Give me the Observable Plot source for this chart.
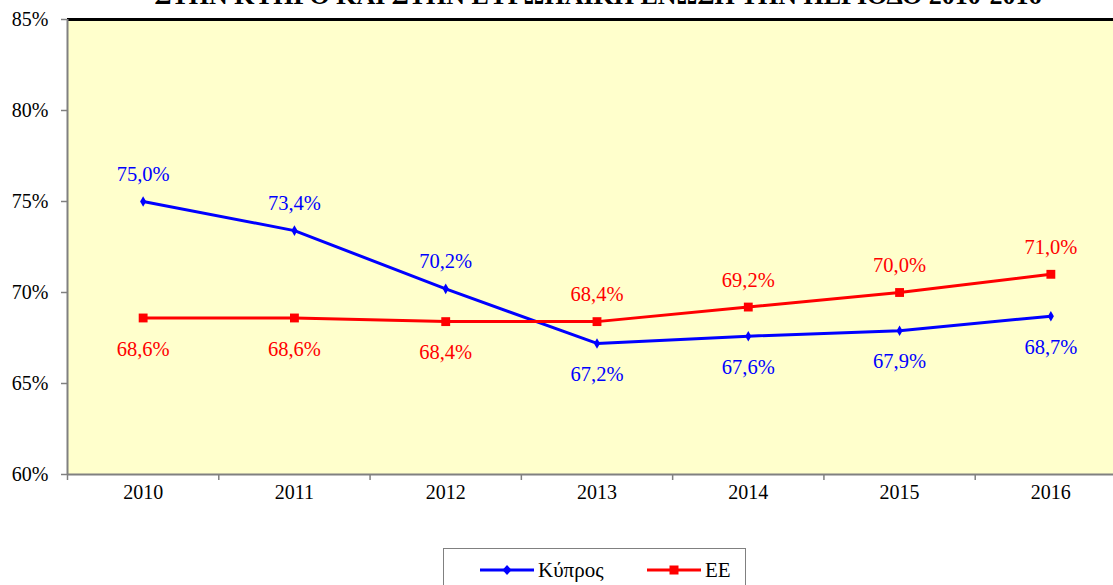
<!DOCTYPE html>
<html><head><meta charset="utf-8">
<script src="https://cdn.jsdelivr.net/npm/d3@7"></script>
<script src="https://cdn.jsdelivr.net/npm/@observablehq/plot@0.6"></script>
<style>
html,body{margin:0;padding:0;background:#fff;overflow:hidden;width:1113px;height:585px;}
body{position:relative;font-family:"Liberation Serif","Times New Roman",serif;}
#title{position:absolute;left:0;width:1196px;top:-19px;text-align:center;font-weight:bold;font-size:26px;white-space:nowrap;color:#000;font-family:"Liberation Serif","Times New Roman",serif;}
#chart{position:absolute;left:0;top:0;}
#chart svg{max-width:none !important;}
#chart svg text{font-family:"Liberation Serif","Times New Roman",serif !important;}
#legend{position:absolute;left:443px;top:548px;width:303px;height:60px;border:1.5px solid #808080;background:#fff;box-sizing:border-box;}
.item{position:absolute;top:9px;font-size:21px;line-height:24px;display:flex;align-items:center;font-family:"Liberation Serif","Times New Roman",serif;}
.item svg{margin-right:4px;}
</style></head>
<body>
<div id="title">ΣΤΗΝ ΚΥΠΡΟ ΚΑΙ ΣΤΗΝ ΕΥΡΩΠΑΪΚΗ ΕΝΩΣΗ ΤΗΝ ΠΕΡΙΟΔΟ 2010-2016</div>
<div id="chart"></div>
<div id="legend"></div>
<script>
const years = ["2010","2011","2012","2013","2014","2015","2016"];
const cyprus = [75.0, 73.4, 70.2, 67.2, 67.6, 67.9, 68.7];
const eu = [68.6, 68.6, 68.4, 68.4, 69.2, 70.0, 71.0];
const yTicks = [60, 65, 70, 75, 80, 85];
const seriesNames = ["Κύπρος", "ΕΕ"];
const colors = ["#0000FF", "#FF0000"];

const fmt = v => v.toFixed(1).replace(".", ",") + "%";
const rows = [];
years.forEach((y, i) => {
  rows.push({i, year: y, s: seriesNames[0], v: cyprus[i], above: cyprus[i] >= eu[i]});
  rows.push({i, year: y, s: seriesNames[1], v: eu[i], above: eu[i] > cyprus[i]});
});
const cyRows = rows.filter(d => d.s === seriesNames[0]);
const euRows = rows.filter(d => d.s === seriesNames[1]);
const bounds = d3.range(years.length + 1).map(k => k - 0.5);
const centers = d3.range(years.length);
const font = "Liberation Serif";

const chart = Plot.plot({
  width: 1130, height: 585,
  marginLeft: 67, marginRight: 4, marginTop: 19, marginBottom: 111,
  style: {fontFamily: font, fontSize: "20px", background: "transparent", maxWidth: "none"},
  x: {type: "linear", domain: [-0.5, years.length - 0.5], axis: null},
  y: {domain: [60, 85], axis: null},
  marks: [
    Plot.frame({fill: "#FFFFCC", stroke: null}),
    Plot.ruleY([85], {stroke: "#000", strokeWidth: 3}),
    Plot.ruleY([60], {stroke: "#808080", strokeWidth: 2}),
    Plot.ruleX([-0.5], {stroke: "#808080", strokeWidth: 2}),
    Plot.axisY(yTicks, {tickSize: 6, stroke: "#808080", strokeWidth: 1.5, tickFormat: () => "", label: null}),
    Plot.axisX(bounds, {tickSize: 6, stroke: "#808080", strokeWidth: 1.5, tickFormat: () => "", label: null}),
    Plot.text(yTicks, {y: d => d, frameAnchor: "left", dx: -19, textAnchor: "end", text: d => d + "%", fontSize: 20, fill: "#000", fontFamily: font}),
    Plot.text(centers, {x: d => d, frameAnchor: "bottom", dy: 24, text: i => years[i], fontSize: 20, fill: "#000", fontFamily: font}),
    Plot.line(cyRows, {x: "i", y: "v", stroke: colors[0], strokeWidth: 3}),
    Plot.line(euRows, {x: "i", y: "v", stroke: colors[1], strokeWidth: 3}),
    Plot.dot(cyRows, {x: "i", y: "v", symbol: "diamond", r: 3.2, fill: colors[0], stroke: null}),
    Plot.dot(euRows, {x: "i", y: "v", symbol: "square", r: 5, fill: colors[1], stroke: null}),
    Plot.text(rows.filter(d => d.above), {x: "i", y: "v", text: d => fmt(d.v), dy: -27, fill: d => d.s === seriesNames[0] ? colors[0] : colors[1], fontSize: 20.5, fontFamily: font}),
    Plot.text(rows.filter(d => !d.above), {x: "i", y: "v", text: d => fmt(d.v), dy: 31, fill: d => d.s === seriesNames[0] ? colors[0] : colors[1], fontSize: 20.5, fontFamily: font})
  ]
});
document.getElementById("chart").appendChild(chart);

// legend
const legend = document.getElementById("legend");
const lx = [36, 203];
seriesNames.forEach((n, k) => {
  const it = document.createElement("div");
  it.className = "item";
  it.style.left = lx[k] + "px";
  const marker = k === 0
    ? `<polygon points="27,7 31.5,12 27,17 22.5,12" fill="${colors[0]}"/>`
    : `<rect x="22.5" y="7.5" width="9" height="9" fill="${colors[1]}"/>`;
  it.innerHTML = `<svg width="54" height="24"><line x1="0" x2="54" y1="12" y2="12" stroke="${colors[k]}" stroke-width="3"/>${marker}</svg><span>${n}</span>`;
  legend.appendChild(it);
});
</script>
</body></html>
